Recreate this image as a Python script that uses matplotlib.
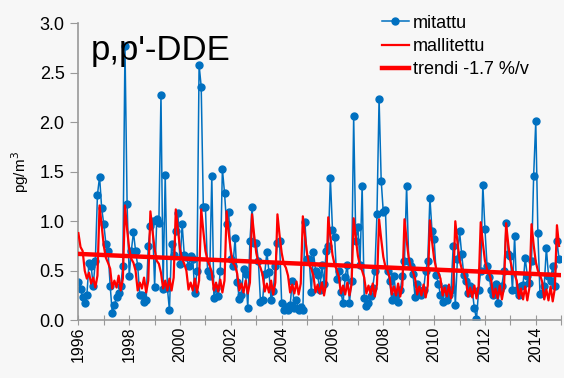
import numpy as np
import matplotlib.pyplot as plt

plt.rcParams['font.family'] = ['Liberation Sans', 'DejaVu Sans']

years = np.arange(1996, 2015)

# mitattu, pg/m3, kuukausittain (tammi..joulu)
measured = [
    [0.39, 0.32, 0.23, 0.17, 0.25, 0.58, 0.55, 0.35, 0.60, 1.27, 1.45, 1.13],  # 1996
    [0.97, 0.77, 0.70, 0.35, 0.07, 0.15, 0.23, 0.27, 0.35, 0.55, 2.77, 1.17],  # 1997
    [0.45, 0.70, 0.89, 0.70, 0.55, 0.25, 0.25, 0.18, 0.20, 0.75, 0.95, 1.00],  # 1998
    [0.34, 1.02, 0.98, 2.28, 0.32, 1.47, 0.33, 0.10, 0.77, 0.66, 0.90, 1.08],  # 1999
    [0.57, 0.97, 0.66, 0.64, 0.55, 0.65, 0.62, 0.27, 0.50, 2.58, 2.36, 1.14],  # 2000
    [1.14, 0.50, 0.45, 1.46, 0.22, 0.33, 0.24, 0.50, 1.53, 1.29, 0.97, 1.09],  # 2001
    [0.62, 0.55, 0.83, 0.39, 0.21, 0.25, 0.52, 0.47, 0.12, 0.80, 1.14, 0.78],  # 2002
    [0.78, 0.60, 0.18, 0.20, 0.47, 0.69, 0.49, 0.20, 0.29, 0.55, 0.78, 0.80],  # 2003
    [0.17, 0.10, 0.13, 0.10, 0.15, 0.40, 0.12, 0.20, 0.10, 0.13, 0.10, 0.99],  # 2004
    [0.62, 0.62, 0.28, 0.69, 0.50, 0.46, 0.30, 0.56, 0.37, 0.70, 0.75, 1.44],  # 2005
    [0.91, 0.84, 0.42, 0.50, 0.28, 0.17, 0.44, 0.56, 0.17, 0.40, 2.06, 0.80],  # 2006
    [0.94, 0.56, 1.36, 0.22, 0.14, 0.17, 0.24, 0.33, 0.50, 1.07, 2.24, 1.41],  # 2007
    [1.09, 1.11, 0.50, 0.40, 0.20, 0.45, 0.25, 0.18, 0.30, 0.45, 0.60, 1.36],  # 2008
    [0.60, 0.55, 0.47, 0.23, 0.37, 0.30, 0.25, 0.30, 0.50, 0.60, 1.24, 0.90],  # 2009
    [0.82, 0.46, 0.37, 0.25, 0.18, 0.33, 0.20, 0.25, 0.30, 0.75, 0.15, 0.62],  # 2010
    [0.90, 0.67, 0.46, 0.40, 0.27, 0.35, 0.30, 0.12, 0.01, 0.30, 0.50, 1.37],  # 2011
    [0.92, 0.55, 0.44, 0.30, 0.25, 0.37, 0.17, 0.30, 0.35, 0.50, 0.98, 0.67],  # 2012
    [0.65, 0.30, 0.85, 0.30, 0.25, 0.35, 0.36, 0.63, 0.45, 0.38, 0.60, 1.46],  # 2013
    [2.01, 0.88, 0.26, 0.27, 0.35, 0.73, 0.45, 0.40, 0.55, 0.35, 0.80, 0.62],  # 2014
]

# mallitettu
modelled = [
    [0.88, 0.74, 0.70, 0.50, 0.42, 0.48, 0.37, 0.43, 0.33, 0.45, 1.16, 0.95],
    [0.75, 0.63, 0.58, 0.52, 0.32, 0.40, 0.33, 0.45, 0.30, 0.42, 1.16, 0.92],
    [0.72, 0.62, 0.58, 0.50, 0.30, 0.38, 0.32, 0.43, 0.28, 0.40, 1.10, 0.90],
    [0.72, 0.60, 0.57, 0.48, 0.32, 0.40, 0.30, 0.42, 0.30, 0.43, 1.12, 0.92],
    [0.72, 0.62, 0.57, 0.50, 0.31, 0.38, 0.30, 0.42, 0.28, 0.40, 1.12, 0.90],
    [0.70, 0.60, 0.55, 0.48, 0.30, 0.38, 0.29, 0.41, 0.28, 0.40, 1.10, 0.88],
    [0.70, 0.58, 0.55, 0.47, 0.30, 0.37, 0.28, 0.40, 0.27, 0.38, 1.07, 0.86],
    [0.68, 0.58, 0.53, 0.46, 0.29, 0.37, 0.28, 0.40, 0.26, 0.38, 1.07, 0.86],
    [0.68, 0.57, 0.53, 0.45, 0.28, 0.36, 0.27, 0.39, 0.26, 0.37, 1.05, 0.85],
    [0.67, 0.56, 0.52, 0.45, 0.28, 0.36, 0.27, 0.38, 0.25, 0.37, 1.04, 0.84],
    [0.66, 0.56, 0.51, 0.44, 0.27, 0.35, 0.26, 0.38, 0.25, 0.36, 1.03, 0.83],
    [0.65, 0.55, 0.50, 0.43, 0.27, 0.35, 0.26, 0.37, 0.24, 0.36, 1.02, 0.82],
    [0.64, 0.54, 0.50, 0.43, 0.26, 0.34, 0.25, 0.37, 0.24, 0.35, 1.02, 0.81],
    [0.63, 0.53, 0.49, 0.42, 0.26, 0.34, 0.25, 0.36, 0.23, 0.35, 1.01, 0.80],
    [0.62, 0.52, 0.48, 0.42, 0.25, 0.33, 0.24, 0.36, 0.22, 0.34, 1.00, 0.79],
    [0.61, 0.52, 0.48, 0.41, 0.24, 0.33, 0.23, 0.35, 0.22, 0.34, 0.99, 0.78],
    [0.60, 0.51, 0.47, 0.40, 0.23, 0.32, 0.22, 0.35, 0.21, 0.33, 0.98, 0.77],
    [0.60, 0.50, 0.46, 0.40, 0.22, 0.32, 0.21, 0.34, 0.20, 0.33, 0.97, 0.76],
    [0.59, 0.50, 0.46, 0.39, 0.21, 0.31, 0.20, 0.34, 0.19, 0.32, 0.96, 0.75],
]

trend_years = [1996.0, 2015.0]
trend_values = [0.67, 0.455]

x = np.concatenate([y + np.arange(12) / 12.0 for y in years])
y_meas = np.concatenate(measured)
y_mod = np.concatenate(modelled)

bg = '#f7f7f7'
fig = plt.figure(figsize=(5.64, 3.78), dpi=100, facecolor=bg)
ax = fig.add_axes([0.139, 0.153, 0.856, 0.785], facecolor=bg)

ax.plot(x, y_meas, color='#0070c0', lw=1.1, marker='o', ms=5, label='mitattu', zorder=2)
ax.plot(x, y_mod, color='#ff0000', lw=1.6, label='mallitettu', zorder=3)
ax.plot(trend_years, trend_values, color='#ff0000', lw=3.2, label='trendi -1.7 %/v', zorder=4)

ax.set_xlim(1996, 2015)
ax.set_ylim(0, 3.0)
yt = np.arange(0, 3.01, 0.5)
ax.set_yticks(yt)
ax.set_yticklabels([f'{v:.1f}' for v in yt], fontsize=13)
ax.set_xticks(np.arange(1996, 2016, 1))
ax.set_xticklabels([str(y) if y % 2 == 0 and y < 2015 else '' for y in range(1996, 2016)],
                   rotation=90, fontsize=11.5)
ax.tick_params(axis='x', direction='inout', length=7, color='#999999', pad=1)
ax.tick_params(axis='y', direction='out', length=6, color='#999999', pad=4)

for s in ['top', 'right']:
    ax.spines[s].set_visible(False)
for s in ['left', 'bottom']:
    ax.spines[s].set_color('#999999')
    ax.spines[s].set_linewidth(1.2)

ax.set_ylabel('pg/m$^3$', fontsize=11, labelpad=6)
ax.text(0.025, 0.965, "p,p'-DDE", transform=ax.transAxes, fontsize=25, va='top', ha='left', zorder=5)

ax.legend(loc='upper left', bbox_to_anchor=(0.61, 1.06), frameon=False, fontsize=13,
          handlelength=1.5, handletextpad=0.2, labelspacing=0.35, borderpad=0)

fig.savefig('out.png', dpi=100, facecolor=bg)
